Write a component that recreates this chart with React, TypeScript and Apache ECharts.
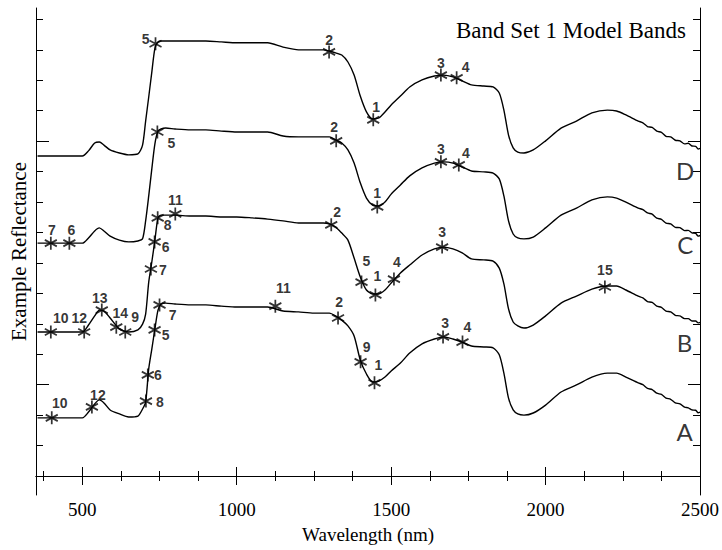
import React, { useEffect, useRef } from "react";
import * as echarts from "echarts";

// Wavelengths (nm) at which the four offset spectra were read
const wavelengths = [
  355, 400, 450, 500, 520, 540, 555, 570, 590, 620, 650, 680, 695, 705, 715, 725, 735, 745, 755, 770,
  800, 850, 900, 950, 1000, 1050, 1100, 1150, 1200, 1250, 1280, 1300, 1320, 1340, 1360, 1380, 1400,
  1420, 1440, 1460, 1480, 1500, 1530, 1560, 1600, 1640, 1670, 1700, 1730, 1760, 1800, 1830, 1850,
  1865, 1880, 1895, 1910, 1930, 1960, 2000, 2050, 2100, 2150, 2200, 2230, 2260, 2300,
];
// Noisy long-wave tail, read more densely
const tailWavelengths = [2315, 2330, 2345, 2360, 2375, 2390, 2405, 2420, 2435, 2450, 2462, 2474, 2486, 2494, 2500];

// Example reflectance (offset, arbitrary units; one tick = 1)
const reflD = [
  10.51, 10.51, 10.51, 10.51, 10.68, 10.94, 10.97, 10.87, 10.71, 10.61, 10.55, 10.58, 10.87, 11.66,
  12.45, 13.27, 14.05, 14.26, 14.29, 14.29, 14.29, 14.29, 14.29, 14.26, 14.23, 14.23, 14.23, 14.09,
  14.0, 14.0, 14.0, 13.96, 13.9, 13.83, 13.6, 13.17, 12.48, 11.96, 11.73, 11.76, 11.96, 12.19, 12.48,
  12.78, 13.01, 13.14, 13.17, 13.11, 12.98, 12.85, 12.81, 12.78, 12.58, 12.02, 11.2, 10.78, 10.64,
  10.61, 10.71, 11.01, 11.43, 11.66, 11.93, 12.02, 11.99, 11.86, 11.66,
];
const tailD = [11.6, 11.48, 11.45, 11.33, 11.29, 11.16, 11.14, 11.03, 11.01, 10.91, 10.93, 10.84, 10.83, 10.74, 10.76];

const reflC = [
  7.65, 7.65, 7.65, 7.65, 7.82, 8.05, 8.15, 8.05, 7.88, 7.75, 7.69, 7.72, 7.79, 8.38, 9.2, 10.09,
  10.91, 11.33, 11.4, 11.43, 11.4, 11.37, 11.37, 11.33, 11.3, 11.3, 11.3, 11.17, 11.14, 11.14, 11.14,
  11.14, 11.04, 10.94, 10.71, 10.28, 9.63, 9.13, 8.9, 8.87, 9.0, 9.26, 9.56, 9.86, 10.12, 10.28,
  10.32, 10.28, 10.15, 10.02, 9.99, 9.95, 9.76, 9.2, 8.38, 7.95, 7.82, 7.79, 7.85, 8.15, 8.57, 8.8,
  9.07, 9.17, 9.13, 9.0, 8.8,
];
const tailC = [8.75, 8.64, 8.6, 8.47, 8.43, 8.31, 8.28, 8.17, 8.16, 8.06, 8.07, 7.99, 7.97, 7.88, 7.9];

const reflB = [
  4.73, 4.73, 4.73, 4.73, 4.96, 5.26, 5.45, 5.42, 5.19, 4.83, 4.73, 4.8, 4.99, 5.32, 6.37, 7.03, 7.75,
  8.48, 8.57, 8.57, 8.57, 8.54, 8.54, 8.51, 8.51, 8.48, 8.44, 8.38, 8.31, 8.31, 8.31, 8.28, 8.18,
  7.98, 7.75, 7.16, 6.54, 6.11, 5.98, 5.98, 6.11, 6.34, 6.67, 6.93, 7.26, 7.46, 7.52, 7.46, 7.33,
  7.13, 7.1, 7.06, 6.83, 6.31, 5.49, 5.06, 4.93, 4.86, 4.96, 5.26, 5.68, 5.91, 6.14, 6.24, 6.24,
  6.11, 5.91,
];
const tailB = [5.85, 5.73, 5.7, 5.58, 5.54, 5.42, 5.39, 5.28, 5.26, 5.17, 5.17, 5.09, 5.09, 5.03, 5.05];

const reflA = [
  1.91, 1.91, 1.91, 1.91, 2.1, 2.37, 2.5, 2.4, 2.17, 2.04, 1.94, 1.97, 2.2, 2.43, 3.52, 4.17, 4.83,
  5.45, 5.65, 5.68, 5.65, 5.62, 5.62, 5.58, 5.55, 5.55, 5.55, 5.42, 5.39, 5.35, 5.35, 5.35, 5.26,
  5.12, 4.93, 4.6, 3.81, 3.35, 3.09, 3.12, 3.25, 3.45, 3.71, 4.04, 4.34, 4.5, 4.57, 4.5, 4.4, 4.27,
  4.24, 4.21, 3.98, 3.38, 2.56, 2.17, 2.04, 2.0, 2.07, 2.33, 2.76, 2.99, 3.25, 3.38, 3.38, 3.25,
  3.06,
];
const tailA = [3.0, 2.88, 2.84, 2.72, 2.68, 2.56, 2.52, 2.4, 2.37, 2.26, 2.24, 2.17, 2.16, 2.08, 2.1];

// Model band markers (label, wavelength, value) per curve
const bandLabelsD = ["5", "2", "1", "3", "4"];
const bandNmD = [737, 1299, 1442, 1661, 1712];
const bandValD = [14.2, 13.93, 11.7, 13.17, 13.08];

const bandLabelsC = ["7", "6", "5", "2", "1", "3", "4"];
const bandNmC = [398, 458, 743, 1322, 1455, 1661, 1719];
const bandValC = [7.65, 7.65, 11.3, 11.01, 8.84, 10.32, 10.22];

const bandLabelsB = ["10", "12", "13", "14", "9", "7", "6", "8", "11", "2", "5", "1", "4", "3", "15"];
const bandNmB = [398, 506, 563, 610, 639, 722, 734, 744, 801, 1306, 1404, 1449, 1509, 1665, 2192];
const bandValB = [4.73, 4.73, 5.45, 4.89, 4.73, 6.8, 7.69, 8.48, 8.61, 8.25, 6.37, 5.95, 6.47, 7.52, 6.21];

const bandLabelsA = ["10", "12", "8", "6", "5", "7", "11", "2", "9", "1", "3", "4"];
const bandNmA = [401, 531, 706, 712, 734, 750, 1125, 1328, 1401, 1446, 1668, 1731];
const bandValA = [1.91, 2.27, 2.46, 3.32, 4.8, 5.62, 5.58, 5.19, 3.75, 3.06, 4.57, 4.4];

// Curve letters
const curveNames = ["D", "C", "B", "A"];
const curveNameNm = [2452, 2452, 2450, 2450];
const curveNameVal = [10.05, 7.59, 4.4, 1.45];

// Axis ticks
const xLabelTicks = [500, 1000, 1500, 2000, 2500];
const xMinorTicks = [375, 625, 750, 875, 1125, 1250, 1375, 1625, 1750, 1875, 2125, 2250, 2375];
const yShortTicks = [0, 1, 2, 4, 5, 6, 7, 8, 9, 10, 12, 13, 14, 15];
const yLongTicks = [3, 11];

// Layout: label offsets (px) of each band number relative to its star
const offD = [[-10, -5], [0, -12], [3, -13], [0, -12], [9, -11]];
const offC = [[1, -13], [2, -13], [14, 11], [-2, -14], [0, -14], [0, -13], [7, -12]];
const offB = [
  [10, -14], [-5, -14], [-2, -12], [4, -14], [10, -15], [12, 1], [11, 5], [10, 7], [0, -14],
  [6, -13], [5, -21], [2, -19], [3, -17], [0, -15], [0, -17],
];
const offA = [
  [8, -15], [6, -12], [14, 1], [10, 0], [11, 5], [13, 10], [8, -18], [1, -16], [6, -15], [4, -18],
  [2, -14], [5, -15],
];

const X_MIN = 350;
const X_MAX = 2500;
const Y_MIN = -0.624;
const Y_MAX = 15.374;

const STAR = "path://M0,-6L0,6M-5.2,-3L5.2,3M-5.2,3L5.2,-3";
const SERIF = "'Liberation Serif', 'DejaVu Serif', serif";
const NARROW = "'Liberation Sans Narrow', 'Liberation Sans', Arial, sans-serif";

export default function App() {
  const ref = useRef<HTMLDivElement>(null);
  useEffect(() => {
    if (!ref.current) return;
    const chart = echarts.init(ref.current, null, { renderer: "svg" });
    const zip = (xs: number[], ys: number[]) => xs.map((x, i) => [x, ys[i]]);
    const curve = (ys: number[], tail: number[]) =>
      zip(wavelengths, ys).concat(zip(tailWavelengths, tail));
    const bands = (labels: string[], nms: number[], vals: number[], offs: number[][]) =>
      labels.map((l, i) => ({ name: l, value: [nms[i], vals[i]], label: { offset: offs[i] } }));

    const black = { color: "#000", width: 1 };
    const lineSeries = (data: number[][]) => ({
      type: "line",
      data,
      showSymbol: false,
      smooth: 0.25,
      lineStyle: { color: "#000", width: 1.4 },
      silent: true,
      z: 2,
    });
    const starSeries = (data: any[]) => ({
      type: "scatter",
      data,
      symbol: STAR,
      symbolSize: [12, 13],
      itemStyle: { color: "#000", borderColor: "#000", borderWidth: 1.8 },
      label: {
        show: true,
        position: "inside",
        formatter: "{b}",
        color: "#000",
        fontFamily: NARROW,
        fontWeight: "bold",
        fontSize: 14,
      },
      silent: true,
      z: 3,
    });
    const tickAxis = (pos: string, ticks: number[], len: number, line: boolean, min: number, max: number) => ({
      type: "value",
      position: pos,
      min,
      max,
      axisLine: { show: line, lineStyle: black },
      axisTick: { show: true, inside: true, length: len, customValues: ticks, lineStyle: black },
      axisLabel: { show: false },
      splitLine: { show: false },
    });

    const option: any = {
      animation: false,
      backgroundColor: "#fff",
      title: {
        text: "Band Set 1 Model Bands",
        right: 31,
        top: 14,
        textStyle: { fontFamily: SERIF, fontSize: 23, fontWeight: "normal", color: "#000" },
      },
      grid: { left: 31, right: 14, top: 8, bottom: 55 },
      xAxis: [
        {
          ...tickAxis("bottom", xLabelTicks, 9, true, X_MIN, X_MAX),
          axisLabel: {
            show: true,
            customValues: xLabelTicks,
            formatter: (v: number) => String(v),
            margin: 5,
            color: "#000",
            fontFamily: SERIF,
            fontSize: 19,
          },
          name: "Wavelength (nm)",
          nameLocation: "middle",
          nameGap: 30,
          nameTextStyle: { fontFamily: SERIF, fontSize: 19, color: "#000" },
        },
        tickAxis("bottom", xMinorTicks, 5, false, X_MIN, X_MAX),
        tickAxis("top", xLabelTicks, 9, true, X_MIN, X_MAX),
        tickAxis("top", xMinorTicks, 5, false, X_MIN, X_MAX),
      ],
      yAxis: [
        {
          ...tickAxis("left", yShortTicks, 7, true, Y_MIN, Y_MAX),
          name: "Example Reflectance",
          nameLocation: "middle",
          nameGap: 7,
          nameTextStyle: { fontFamily: SERIF, fontSize: 21, color: "#000" },
        },
        tickAxis("left", yLongTicks, 13, false, Y_MIN, Y_MAX),
        tickAxis("right", yShortTicks, 7, true, Y_MIN, Y_MAX),
        tickAxis("right", yLongTicks, 12, false, Y_MIN, Y_MAX),
      ],
      series: [
        lineSeries(curve(reflD, tailD)),
        lineSeries(curve(reflC, tailC)),
        lineSeries(curve(reflB, tailB)),
        lineSeries(curve(reflA, tailA)),
        starSeries(bands(bandLabelsD, bandNmD, bandValD, offD)),
        starSeries(bands(bandLabelsC, bandNmC, bandValC, offC)),
        starSeries(bands(bandLabelsB, bandNmB, bandValB, offB)),
        starSeries(bands(bandLabelsA, bandNmA, bandValA, offA)),
        {
          type: "scatter",
          data: curveNames.map((n, i) => ({ name: n, value: [curveNameNm[i], curveNameVal[i]] })),
          symbol: "circle",
          symbolSize: 1,
          itemStyle: { color: "rgba(0,0,0,0)" },
          label: {
            show: true,
            position: "inside",
            formatter: "{b}",
            color: "#000",
            fontFamily: "Lato, 'Noto Sans', sans-serif",
            fontSize: 24,
          },
          silent: true,
        },
      ],
    };
    chart.setOption(option);
    return () => chart.dispose();
  }, []);
  return (
    <div
      ref={ref}
      style={{ position: "fixed", left: 0, top: 0, width: 722, height: 550, background: "#fff" }}
    />
  );
}
